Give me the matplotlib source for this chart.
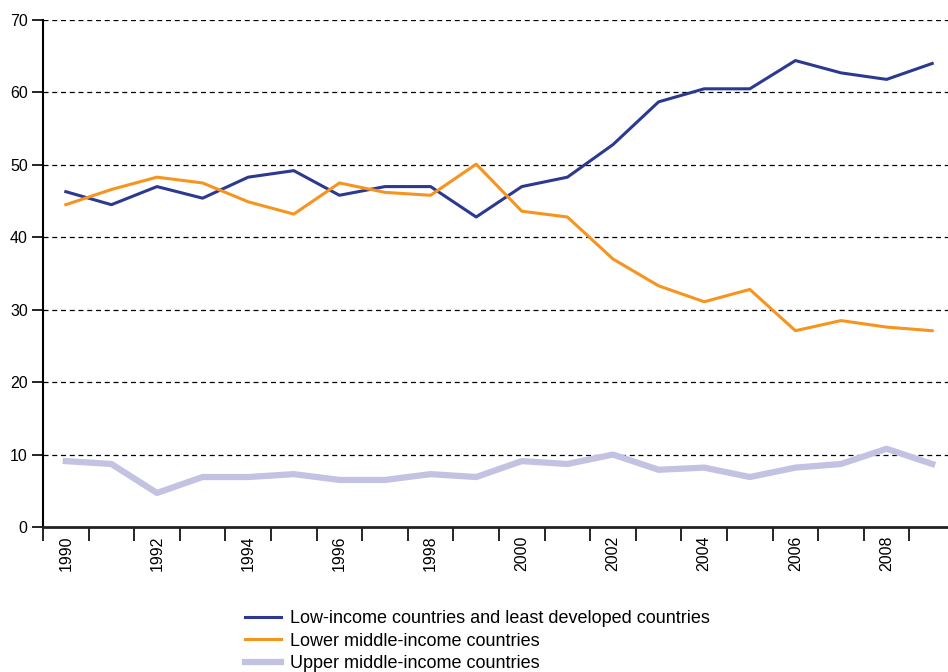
import numpy as np
import matplotlib
matplotlib.use('Agg')
import matplotlib.pyplot as plt

plt.rcParams['font.family'] = ['Liberation Sans', 'DejaVu Sans']

years = list(range(1990, 2010))
low_income = [46.3, 44.5, 47.0, 45.4, 48.3, 49.2, 45.8, 47.0, 47.0, 42.8,
              47.0, 48.3, 52.8, 58.7, 60.5, 60.5, 64.4, 62.7, 61.8, 64.0]
lower_middle = [44.5, 46.6, 48.3, 47.5, 44.9, 43.2, 47.5, 46.2, 45.8, 50.1,
                43.6, 42.8, 37.0, 33.3, 31.1, 32.8, 27.1, 28.5, 27.6, 27.1]
upper_middle = [9.1, 8.7, 4.7, 6.9, 6.9, 7.3, 6.5, 6.5, 7.3, 6.9,
                9.1, 8.7, 10.0, 7.9, 8.2, 6.9, 8.2, 8.7, 10.8, 8.7]
labels = ['Low-income countries and least developed countries',
          'Lower middle-income countries',
          'Upper middle-income countries']

x = np.arange(len(years))

fig = plt.figure(figsize=(9.48, 6.72), dpi=100)
ax = fig.add_axes([43/948, 1-527/672, 912/948, 507/672])

ax.plot(x, low_income, color='#2b3990', lw=2.2, label=labels[0], zorder=4)
ax.plot(x, lower_middle, color='#f7941d', lw=2.2, label=labels[1], zorder=4)
ax.plot(x, upper_middle, color='#c3c2e2', lw=4.5, label=labels[2], zorder=3)

ax.set_xlim(-0.5, len(years)-0.5)
ax.set_ylim(0, 70)

# grid
for v in range(10, 80, 10):
    ax.axhline(v, color='black', lw=0.9, ls=(0, (4, 3)), zorder=1)

ax.spines['top'].set_visible(False)
ax.spines['right'].set_visible(False)
ax.spines['left'].set_linewidth(1.5)
ax.spines['bottom'].set_linewidth(2)
ax.spines['bottom'].set_color('#222222')

ax.set_yticks(range(0, 80, 10))
ax.tick_params(axis='y', direction='out', length=8, width=1.2, labelsize=11.5, pad=3)

# x ticks between categories, labels on every other year
ax.set_xticks(np.arange(-0.5, len(years), 1.0))
ax.set_xticklabels([])
ax.tick_params(axis='x', which='major', direction='out', length=10, width=1.2)
ax.set_xticks(x[::2], minor=True)
ax.set_xticklabels([str(y) for y in years[::2]], minor=True, rotation=90, fontsize=11.5)
ax.tick_params(axis='x', which='minor', length=0, pad=6)

leg = fig.legend(loc='upper left', bbox_to_anchor=(238/948, 1-603/672), frameon=False,
                 fontsize=13, handlelength=2.0, handletextpad=0.5, labelspacing=0.3,
                 borderaxespad=0)

fig.savefig('out.png', dpi=100)
